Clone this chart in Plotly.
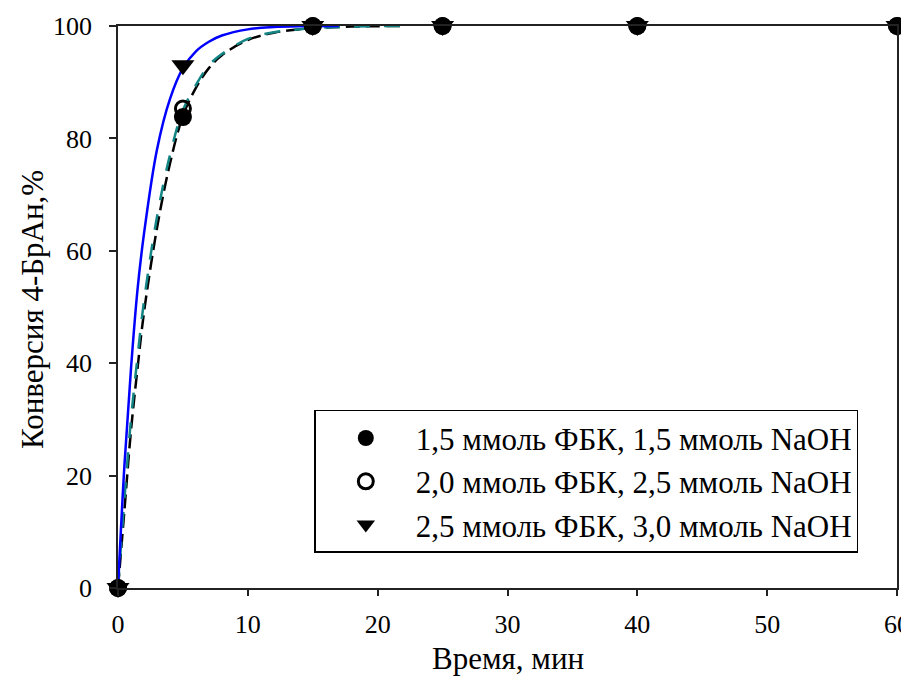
import plotly.graph_objects as go

# Experimental data
time_min = [0, 5, 15, 25, 40, 60]
conv_s1 = [0, 83.8, 100, 100, 100, 100]   # 1,5 ммоль ФБК, 1,5 ммоль NaOH
conv_s2 = [0, 85.3, 100, 100, 100, 100]   # 2,0 ммоль ФБК, 2,5 ммоль NaOH
conv_s3 = [0, 93.0, 100, 100, 100, 100]   # 2,5 ммоль ФБК, 3,0 ммоль NaOH

names = [
    "1,5 ммоль ФБК, 1,5 ммоль NaOH",
    "2,0 ммоль ФБК, 2,5 ммоль NaOH",
    "2,5 ммоль ФБК, 3,0 ммоль NaOH",
]

# Fitted curves
fit_blue_t = [0, 0.5, 1, 1.5, 2, 3, 4, 5, 6, 7, 8, 10, 12, 14, 17]
fit_blue_y = [0, 22, 39, 53, 63, 78, 87, 92.5, 95.5, 97.2, 98.3, 99.4, 99.8, 99.95, 100]

fit_black_t = [0, 0.5, 1, 1.5, 2, 3, 4, 5, 6, 7, 8, 10, 12, 15, 18, 22]
fit_black_y = [0, 14, 28, 39, 49, 64, 75.5, 84, 89, 92.5, 94.8, 97.5, 98.8, 99.6, 99.9, 100]

fit_teal_t = [0, 0.5, 1, 1.5, 2, 3, 4, 5, 6, 7, 8, 10, 12, 15, 18, 22]
fit_teal_y = [0, 16, 30, 41, 51, 66, 77, 85, 89.5, 93, 95, 97.7, 98.9, 99.6, 99.9, 100]

x_ticks = [0, 10, 20, 30, 40, 50, 60]
y_ticks = [0, 20, 40, 60, 80, 100]

x_title = "Время, мин"
y_title = "Конверсия 4-БрАн,%"

FONT = "Liberation Serif, Times New Roman, serif"

fig = go.Figure()

fig.add_trace(go.Scatter(x=fit_black_t, y=fit_black_y, mode="lines", line_shape="spline",
                         line=dict(color="black", width=2.5, dash="14px,6px"),
                         showlegend=False, hoverinfo="skip", cliponaxis=False))
fig.add_trace(go.Scatter(x=fit_teal_t, y=fit_teal_y, mode="lines", line_shape="spline",
                         line=dict(color="#138585", width=2.5, dash="16px,14px"),
                         showlegend=False, hoverinfo="skip", cliponaxis=False))
fig.add_trace(go.Scatter(x=fit_blue_t, y=fit_blue_y, mode="lines", line_shape="spline",
                         line=dict(color="#0000ff", width=2.5),
                         showlegend=False, hoverinfo="skip", cliponaxis=False))

fig.add_trace(go.Scatter(x=time_min, y=conv_s1, mode="markers", name=names[0],
                         marker=dict(symbol="circle", size=18, color="black"),
                         cliponaxis=False))
fig.add_trace(go.Scatter(x=time_min, y=conv_s2, mode="markers", name=names[1],
                         marker=dict(symbol="circle-open", size=15, color="black",
                                     line=dict(width=3, color="black")),
                         cliponaxis=False))
fig.add_trace(go.Scatter(x=time_min, y=conv_s3, mode="markers", name=names[2],
                         marker=dict(symbol="triangle-down", size=20, color="black"),
                         cliponaxis=False))

fig.update_layout(
    width=909, height=685,
    margin=dict(l=110, r=20, t=18, b=105, autoexpand=False),
    paper_bgcolor="white", plot_bgcolor="white",
    font=dict(family=FONT, size=26, color="black"),
    showlegend=True,
    legend=dict(
        x=0.252, y=0.317, xanchor="left", yanchor="top",
        bgcolor="white", bordercolor="black", borderwidth=1.5,
        font=dict(family=FONT, size=31, color="black"),
        itemsizing="trace", tracegroupgap=0,
        itemwidth=90, entrywidth=452, entrywidthmode="pixels",
    ),
    xaxis=dict(
        range=[0, 60], tickvals=x_ticks, ticks="outside", ticklen=6, tickwidth=1.5,
        tickcolor="#222", showline=True, linecolor="#222", linewidth=1.5, mirror=True,
        showgrid=False, zeroline=False, ticklabelstandoff=6, automargin=False,
        ticklabeloverflow="allow",
        tickfont=dict(family=FONT, size=26),
    ),
    yaxis=dict(
        range=[0, 100], tickvals=y_ticks, ticks="outside", ticklen=7, tickwidth=1.5,
        tickcolor="#222", showline=True, linecolor="#222", linewidth=1.5, mirror=True,
        showgrid=False, zeroline=False, ticklabelstandoff=12, automargin=False,
        ticklabeloverflow="allow",
        tickfont=dict(family=FONT, size=26),
    ),
    annotations=[
        dict(text=x_title, xref="paper", yref="paper", x=0.5, y=-0.126,
             xanchor="center", yanchor="middle", showarrow=False,
             font=dict(family=FONT, size=31, color="black")),
        dict(text=y_title, xref="paper", yref="paper", x=-0.109, y=0.495,
             xanchor="center", yanchor="middle", showarrow=False, textangle=-90,
             font=dict(family=FONT, size=31, color="black")),
    ],
)

fig.write_html("out.html")
